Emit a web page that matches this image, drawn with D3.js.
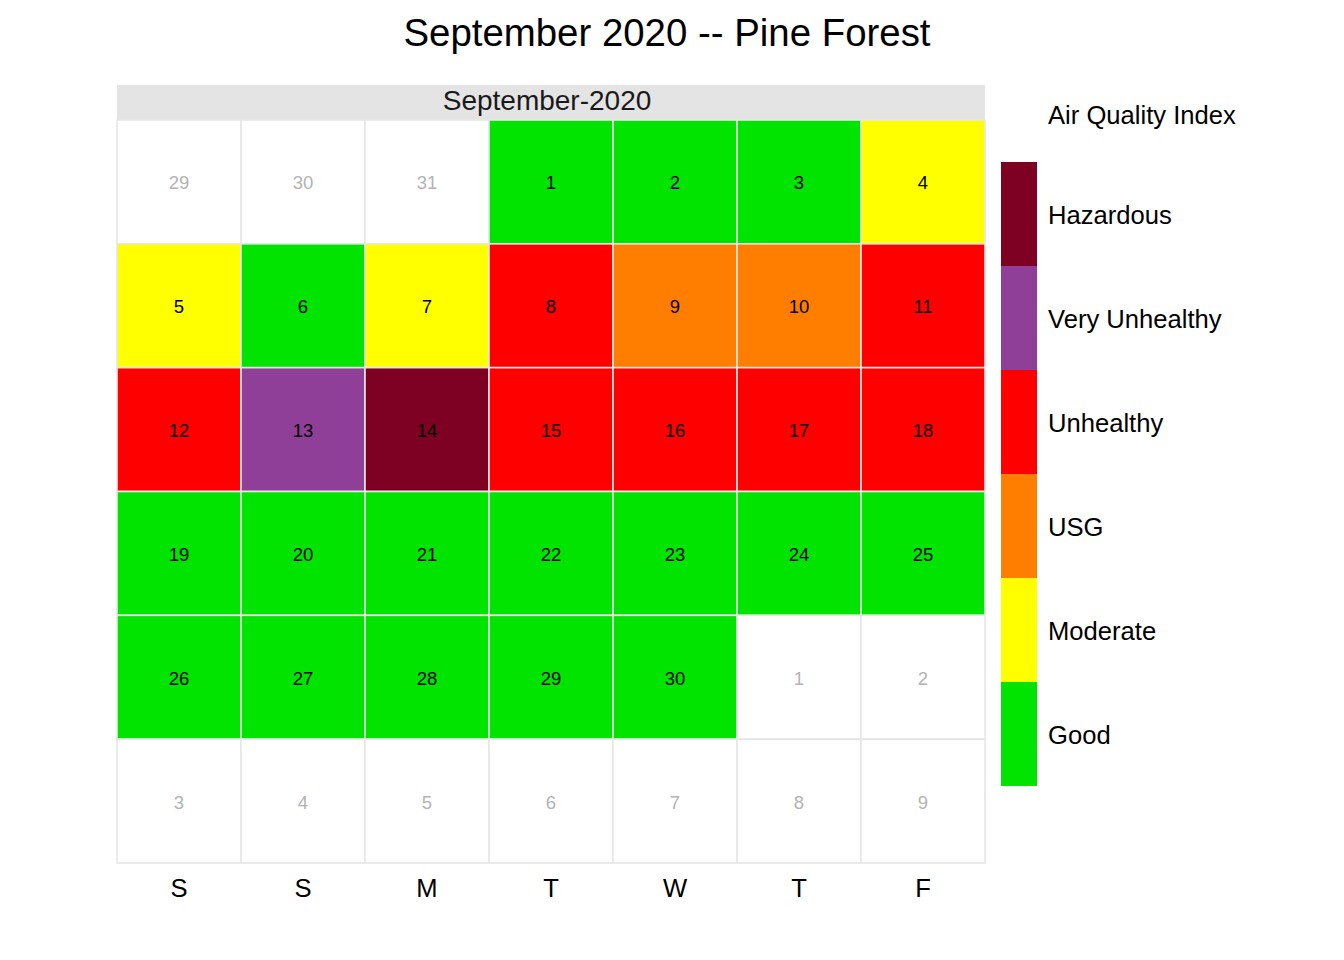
<!DOCTYPE html>
<html>
<head>
  <meta charset="utf-8">
  <style>
    html, body { margin: 0; overflow: hidden; background: #fff; }
    svg { display: block; font-family: "Liberation Sans", Arial, sans-serif; }
  </style>
  <script src="https://d3js.org/d3.v7.min.js"></script>
</head>
<body>
  <svg id="svg" width="1344" height="960"></svg>
  <script>
    var TITLE = "September 2020 -- Pine Forest";
    var STRIP = "September-2020";
    var weekdays = ["S", "S", "M", "T", "W", "T", "F"];
    var categories = ["Good", "Moderate", "USG", "Unhealthy", "Very Unhealthy", "Hazardous"];
    var catColors = ["#00e400", "#ffff00", "#ff7e00", "#ff0000", "#8f3f97", "#7e0023"];
    // AQI category for Sept 1..30 (index into categories)
    var septAqi = [0, 0, 0, 1, 1, 0, 1, 3, 2, 2,
                   3, 3, 4, 5, 3, 3, 3, 3, 0, 0,
                   0, 0, 0, 0, 0, 0, 0, 0, 0, 0];
    var leadDays = [29, 30, 31];          // August days before the 1st
    var trailDays = [1, 2, 3, 4, 5, 6, 7, 8, 9]; // October days after the 30th

    // build the 42 calendar cells
    var cells = [];
    leadDays.forEach(function(d) { cells.push({day: d, cat: null}); });
    septAqi.forEach(function(c, i) { cells.push({day: i + 1, cat: c}); });
    trailDays.forEach(function(d) { cells.push({day: d, cat: null}); });
    cells.forEach(function(c, i) { c.col = i % 7; c.row = Math.floor(i / 7); });

    var svg = d3.select("#svg");
    var panel = {left: 117, right: 985, top: 120, bottom: 863};

    var x = d3.scaleBand().domain(d3.range(7)).range([panel.left, panel.right]);
    var y = d3.scaleBand().domain(d3.range(6)).range([panel.top, panel.bottom]);
    var color = d3.scaleOrdinal().domain(d3.range(categories.length)).range(catColors);

    svg.append("text")
      .attr("x", 667).attr("y", 32)
      .attr("text-anchor", "middle").attr("dominant-baseline", "central")
      .style("font-size", "38.4px")
      .text(TITLE);

    // strip
    svg.append("rect")
      .attr("x", panel.left).attr("y", 85)
      .attr("width", panel.right - panel.left).attr("height", panel.top - 85)
      .attr("fill", "#e4e4e4");
    svg.append("text")
      .attr("x", 547).attr("y", 100)
      .attr("text-anchor", "middle").attr("dominant-baseline", "central")
      .style("font-size", "28px").attr("fill", "#1a1a1a")
      .text(STRIP);

    var g = svg.append("g");
    g.selectAll("rect").data(cells).enter().append("rect")
      .attr("x", function(d) { return x(d.col); })
      .attr("y", function(d) { return y(d.row); })
      .attr("width", x.bandwidth())
      .attr("height", y.bandwidth())
      .attr("fill", function(d) { return d.cat === null ? "#ffffff" : color(d.cat); })
      .attr("stroke", "#e6e6e6")
      .attr("stroke-width", 1.6);

    g.selectAll("text").data(cells).enter().append("text")
      .attr("x", function(d) { return x(d.col) + x.bandwidth() / 2; })
      .attr("y", function(d) { return y(d.row) + y.bandwidth() / 2 + 1; })
      .attr("text-anchor", "middle").attr("dominant-baseline", "central")
      .style("font-size", "18.5px")
      .attr("fill", function(d) { return d.cat === null ? "#b3b3b3" : "#000"; })
      .text(function(d) { return d.day; });

    // weekday axis
    var xAxis = d3.axisBottom(d3.scaleBand().domain(weekdays.map(function(w, i) { return i; }))
        .range([panel.left, panel.right]))
      .tickSize(0).tickFormat(function(i) { return weekdays[i]; });
    var ax = svg.append("g").attr("transform", "translate(0," + panel.bottom + ")").call(xAxis);
    ax.select(".domain").remove();
    ax.selectAll("text")
      .attr("y", 25).attr("dy", "0.35em")
      .style("font-size", "25.6px").style("font-family", "Liberation Sans, Arial, sans-serif")
      .attr("fill", "#000");

    // legend
    var legY = d3.scaleBand().domain(d3.range(categories.length).reverse()).range([162, 786]);
    var leg = svg.append("g");
    leg.append("text")
      .attr("x", 1048).attr("y", 115)
      .attr("dominant-baseline", "central")
      .style("font-size", "25.6px")
      .text("Air Quality Index");
    leg.selectAll("rect").data(d3.range(categories.length)).enter().append("rect")
      .attr("x", 1001).attr("y", function(i) { return legY(i); })
      .attr("width", 36).attr("height", legY.bandwidth())
      .attr("fill", function(i) { return color(i); });
    leg.selectAll("text.lab").data(d3.range(categories.length)).enter().append("text")
      .attr("class", "lab")
      .attr("x", 1048).attr("y", function(i) { return legY(i) + legY.bandwidth() / 2 + 1; })
      .attr("dominant-baseline", "central")
      .style("font-size", "25.6px")
      .text(function(i) { return categories[i]; });
  </script>
</body>
</html>
